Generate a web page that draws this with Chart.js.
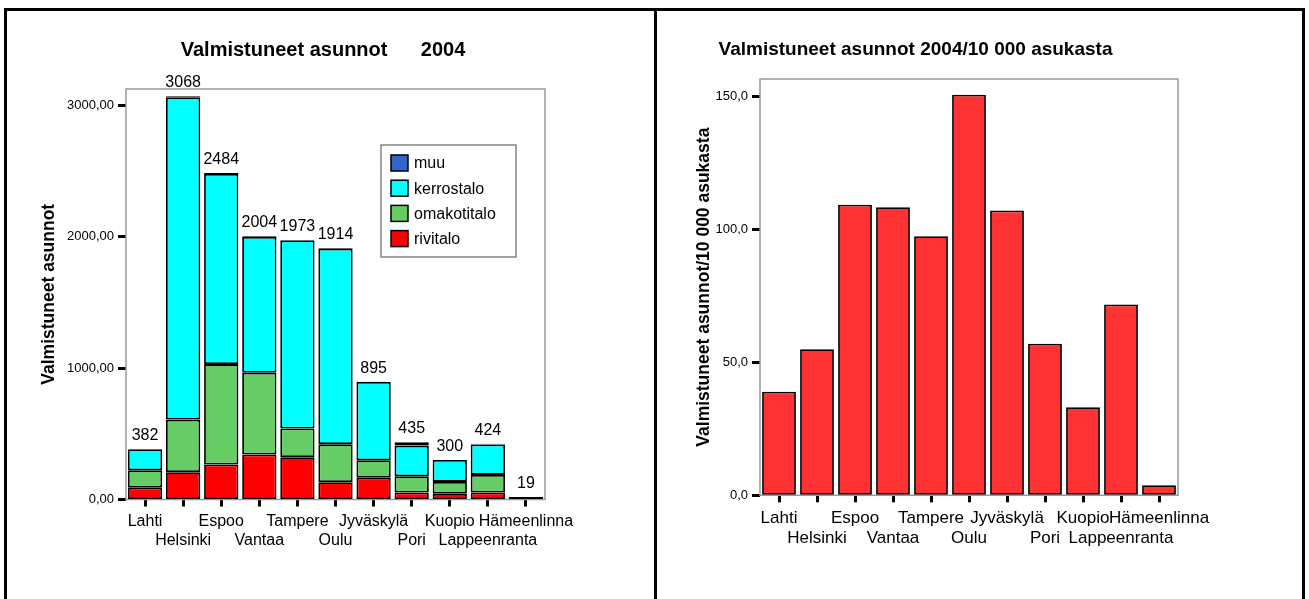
<!DOCTYPE html>
<html>
<head>
<meta charset="utf-8">
<script src="https://cdn.jsdelivr.net/npm/chart.js@4/dist/chart.umd.min.js"></script>
<style>
  html, body { margin: 0; padding: 0; background: #fff; }
  body { width: 1309px; height: 599px; position: relative; overflow: hidden; }
  canvas { position: absolute; top: 0; }
  #c1 { left: 0; }
  #c2 { left: 640px; }
  .ln { position: absolute; background: #000; z-index: 5; }
</style>
</head>
<body>
<canvas id="c1" width="655" height="599"></canvas>
<canvas id="c2" width="669" height="599"></canvas>
<div class="ln" style="left:4px;top:8px;width:1301px;height:3px;"></div>
<div class="ln" style="left:4px;top:8px;width:3px;height:591px;"></div>
<div class="ln" style="left:654px;top:8px;width:3px;height:591px;"></div>
<div class="ln" style="left:1302px;top:8px;width:3px;height:591px;"></div>
<script>
// ---- data ----
const cities = ['Lahti', 'Helsinki', 'Espoo', 'Vantaa', 'Tampere', 'Oulu', 'Jyväskylä', 'Pori', 'Kuopio', 'Lappeenranta', 'Hämeenlinna'];
const rivitalo    = [90, 208, 266, 342, 322, 132, 165, 53, 43, 53, 19];
const omakotitalo = [133, 400, 764, 622, 218, 289, 134, 124, 91, 134, 0];
const kerrostalo  = [159, 2452, 1446, 1034, 1433, 1487, 596, 233, 166, 232, 0];
const muu         = [0, 8, 8, 6, 0, 6, 0, 25, 0, 5, 0];
const perTenThousand = [38.9, 54.9, 109.2, 108.3, 97.4, 150.6, 107.1, 57.0, 33.1, 71.7, 3.8];
const yTicks1 = [0, 1000, 2000, 3000];
const yTicks2 = [0, 50, 100, 150];
const title1 = 'Valmistuneet asunnot      2004';
const title2 = 'Valmistuneet asunnot 2004/10 000 asukasta';
const yTitle1 = 'Valmistuneet asunnot';
const yTitle2 = 'Valmistuneet asunnot/10 000 asukasta';

// ---- helpers ----
const FONT = 'Arial, "Liberation Sans", sans-serif';
Chart.defaults.font.family = FONT;
Chart.defaults.color = '#000';
const twoRowLabels = cities.map((c, i) => i % 2 === 0 ? [c, ''] : ['', c]);

const framePlugin = {
  id: 'frame',
  beforeDatasetsDraw(chart) {
    const { ctx, chartArea: a } = chart;
    ctx.save();
    ctx.strokeStyle = '#999';
    ctx.lineWidth = 1.5;
    ctx.strokeRect(a.left, a.top, a.right - a.left, a.bottom - a.top);
    ctx.restore();
  }
};

const totalsPlugin = {
  id: 'totals',
  afterDatasetsDraw(chart) {
    const { ctx } = chart;
    const y = chart.scales.y;
    const n = chart.data.labels.length;
    const lastMeta = chart.getDatasetMeta(chart.data.datasets.length - 1);
    ctx.save();
    ctx.font = '16px ' + FONT;
    ctx.fillStyle = '#000';
    ctx.textAlign = 'center';
    ctx.textBaseline = 'alphabetic';
    for (let i = 0; i < n; i++) {
      let sum = 0;
      chart.data.datasets.forEach(ds => { sum += ds.data[i]; });
      const px = lastMeta.data[i].x;
      ctx.fillText(String(sum), px, y.getPixelForValue(sum) - 9);
    }
    ctx.restore();
  }
};

const insideLegend = {
  id: 'insideLegend',
  afterDraw(chart) {
    const { ctx, chartArea: a } = chart;
    const x = a.left + 255, y = a.top + 56, w = 135, h = 112;
    ctx.save();
    ctx.fillStyle = '#fff';
    ctx.fillRect(x, y, w, h);
    ctx.strokeStyle = '#666';
    ctx.lineWidth = 1.2;
    ctx.strokeRect(x, y, w, h);
    const items = chart.data.datasets.slice().reverse();
    items.forEach((ds, i) => {
      const cy = y + 18 + i * 25.2;
      ctx.fillStyle = ds.backgroundColor;
      ctx.fillRect(x + 10, cy - 8, 17, 16);
      ctx.strokeStyle = '#000';
      ctx.lineWidth = 1.5;
      ctx.strokeRect(x + 10, cy - 8, 17, 16);
      ctx.fillStyle = '#000';
      ctx.font = '16px ' + FONT;
      ctx.textAlign = 'left';
      ctx.textBaseline = 'middle';
      ctx.fillText(ds.label, x + 33, cy + 1);
    });
    ctx.restore();
  }
};

function xScale(height, fontSize) {
  return {
    type: 'category',
    stacked: true,
    afterFit(s) { s.height = height; },
    border: { display: false },
    grid: { display: true, offset: false, drawOnChartArea: false, drawTicks: true, tickLength: 7, tickWidth: 3, tickColor: '#000' },
    ticks: { autoSkip: false, maxRotation: 0, minRotation: 0, padding: 5.5, font: { size: fontSize }, color: '#000' }
  };
}

function yScale(width, max, tickValues, decimals, title, titlePad) {
  return {
    type: 'linear',
    position: 'left',
    stacked: true,
    min: 0,
    max: max,
    afterFit(s) { s.width = width; },
    afterBuildTicks(s) { s.ticks = tickValues.map(v => ({ value: v })); },
    border: { display: false },
    grid: { display: true, drawOnChartArea: false, drawTicks: true, tickLength: 8, tickWidth: 3, tickColor: '#000' },
    ticks: {
      padding: 4,
      font: { size: 13 },
      color: '#000',
      callback: v => Number(v).toFixed(decimals).replace('.', ',')
    },
    title: { display: true, text: title, font: { size: 17.5, weight: 'bold' }, color: '#000', padding: { top: titlePad, bottom: 0 } }
  };
}

function spacerScale(width) {
  return {
    type: 'linear',
    position: 'right',
    display: true,
    afterFit(s) { s.width = width; },
    border: { display: false },
    grid: { display: false },
    ticks: { display: false }
  };
}

// ---- chart 1: stacked ----
new Chart(document.getElementById('c1'), {
  type: 'bar',
  data: {
    labels: twoRowLabels,
    datasets: [
      { label: 'rivitalo', data: rivitalo, backgroundColor: '#FF0000' },
      { label: 'omakotitalo', data: omakotitalo, backgroundColor: '#66CC66' },
      { label: 'kerrostalo', data: kerrostalo, backgroundColor: '#00FFFF' },
      { label: 'muu', data: muu, backgroundColor: '#3366CC' }
    ].map(d => Object.assign(d, { borderColor: '#000', borderWidth: 1.8, borderSkipped: false, categoryPercentage: 1, barPercentage: 0.9 }))
  },
  options: {
    responsive: false,
    devicePixelRatio: 1,
    animation: false,
    layout: { padding: { left: 0, right: 9, top: 0, bottom: 39.5 } },
    scales: {
      x: xScale(60, 16),
      y: yScale(126, 3123, yTicks1, 2, yTitle1, 38.5),
      spacer: spacerScale(101)
    },
    plugins: {
      legend: { display: false },
      tooltip: { enabled: false },
      title: { display: true, text: title1, font: { size: 20, weight: 'bold' }, color: '#000', padding: { top: 38, bottom: 27 } }
    }
  },
  plugins: [framePlugin, totalsPlugin, insideLegend]
});

// ---- chart 2: per 10 000 inhabitants ----
new Chart(document.getElementById('c2'), {
  type: 'bar',
  data: {
    labels: twoRowLabels,
    datasets: [
      { label: yTitle2, data: perTenThousand, backgroundColor: '#FF3333', borderColor: '#000', borderWidth: 1.8, borderSkipped: false, categoryPercentage: 1, barPercentage: 0.89 }
    ]
  },
  options: {
    responsive: false,
    devicePixelRatio: 1,
    animation: false,
    layout: { padding: { left: 0, right: 118, top: 0, bottom: 43.7 } },
    scales: {
      x: xScale(60, 17),
      y: yScale(120, 156.5, yTicks2, 1, yTitle2, 53.5),
      spacer: spacerScale(13)
    },
    plugins: {
      legend: { display: false },
      tooltip: { enabled: false },
      title: { display: true, text: title2, font: { size: 19, weight: 'bold' }, color: '#000', padding: { top: 38.6, bottom: 17.6 } }
    }
  },
  plugins: [framePlugin]
});
</script>
</body>
</html>
